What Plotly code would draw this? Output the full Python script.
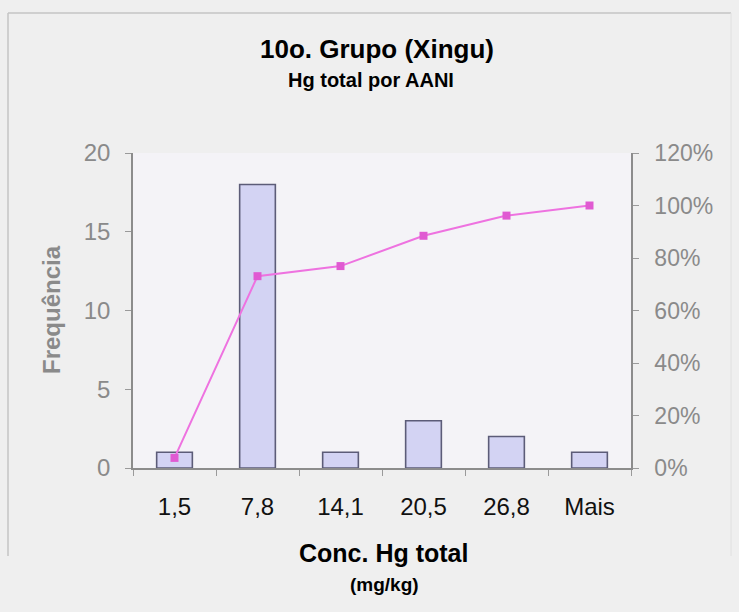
import plotly.graph_objects as go

# Histogram of total Hg concentration with cumulative percentage
bins = ["1,5", "7,8", "14,1", "20,5", "26,8", "Mais"]
frequency = [1, 18, 1, 3, 2, 1]
cumulative_pct = [0.0385, 0.7308, 0.7692, 0.8846, 0.9615, 1.0]

W, H = 739, 612
L, R, T, B = 133, 108, 153, 144
PW, PH = W - L - R, H - T - B

FONT = "Arial, Liberation Sans, sans-serif"
GREY = "#8a8a8a"


def px(x):
    return (x - L) / PW


def py(y):
    return (H - B - y) / PH


fig = go.Figure()

fig.add_trace(go.Bar(
    x=bins, y=frequency, name="Frequência",
    marker=dict(color="#d3d3f3", line=dict(color="#5c5c78", width=1.6)),
    width=0.43,
))

fig.add_trace(go.Scatter(
    x=bins, y=cumulative_pct, yaxis="y2", name="% cumulativo",
    mode="lines+markers",
    line=dict(color="#ee72e0", width=2),
    marker=dict(symbol="square", size=8, color="#e05ad2"),
))

annotations = [
    dict(text="<b>10o. Grupo (Xingu)</b>", x=px(377), y=py(49),
         font=dict(size=26, color="#000", family=FONT)),
    dict(text="<b>Hg total por AANI</b>", x=px(371), y=py(80),
         font=dict(size=20, color="#000", family=FONT)),
    dict(text="<b>Conc. Hg total</b>", x=px(383), y=py(553),
         font=dict(size=25, color="#000", family=FONT)),
    dict(text="<b>(mg/kg)</b>", x=px(384), y=py(584),
         font=dict(size=19, color="#000", family=FONT)),
    dict(text="<b>Frequência</b>", x=px(51), y=py(310), textangle=-90,
         font=dict(size=24, color=GREY, family=FONT)),
]
for a in annotations:
    a.update(xref="paper", yref="paper", showarrow=False,
             xanchor="center", yanchor="middle")

frame = dict(color="#c4c4c4", width=1.5)
shapes = [
    dict(type="line", x0=px(8), x1=px(731), y0=py(13), y1=py(13), line=frame),
    dict(type="line", x0=px(8), x1=px(8), y0=py(13), y1=py(556), line=frame),
    dict(type="line", x0=px(731), x1=px(731), y0=py(13), y1=py(556),
         line=dict(color="#e0e0e0", width=1)),
]
for s in shapes:
    s.update(xref="paper", yref="paper", layer="below")

fig.update_layout(
    width=W, height=H,
    margin=dict(l=L, r=R, t=T, b=B, pad=0),
    paper_bgcolor="#efefef",
    plot_bgcolor="#f4f3f7",
    showlegend=False,
    bargap=0.57,
    font=dict(family=FONT),
    annotations=annotations,
    shapes=shapes,
    xaxis=dict(
        type="category",
        showline=True, linecolor="#8c8c8c", linewidth=1.5,
        ticks="outside", tickson="boundaries", ticklen=6, tickcolor="#9a9a9a",
        tickfont=dict(size=24, color="#111"),
        ticklabelstandoff=16,
        showgrid=False, zeroline=False,
    ),
    yaxis=dict(
        range=[0, 20], dtick=5,
        showline=True, linecolor="#8c8c8c", linewidth=1.5,
        ticks="outside", ticklen=6, tickcolor="#9a9a9a",
        tickfont=dict(size=24, color=GREY),
        ticklabelstandoff=10,
        showgrid=False, zeroline=False,
    ),
    yaxis2=dict(
        range=[0, 1.2], dtick=0.2, tickformat=".0%",
        overlaying="y", side="right",
        showline=True, linecolor="#8c8c8c", linewidth=1.5,
        ticks="outside", ticklen=6, tickcolor="#9a9a9a",
        tickfont=dict(size=23, color=GREY),
        ticklabelstandoff=11,
        showgrid=False, zeroline=False,
    ),
)

fig.write_html("out.html")
